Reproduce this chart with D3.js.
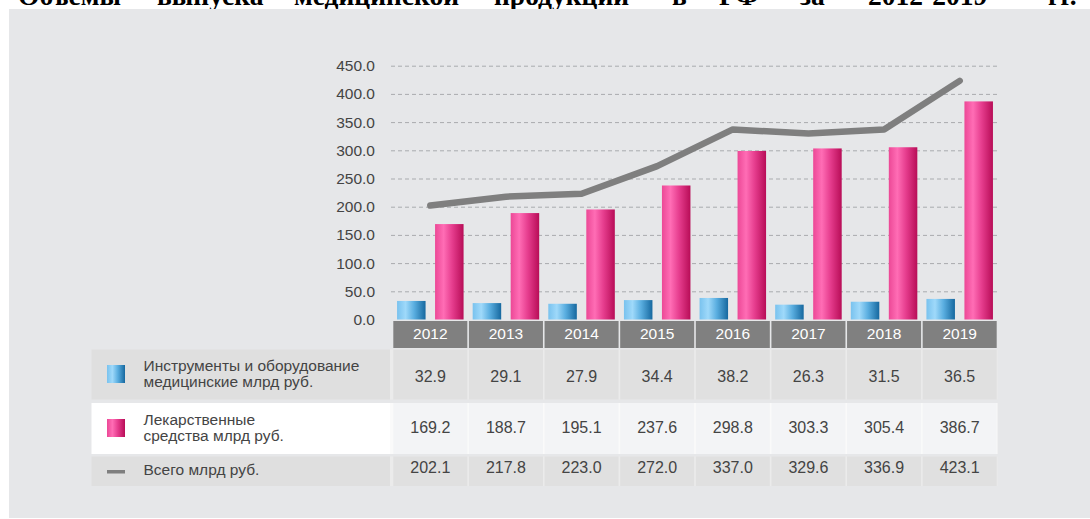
<!DOCTYPE html>
<html><head><meta charset="utf-8">
<script src="https://cdn.jsdelivr.net/npm/d3@7/dist/d3.min.js"></script>
<style>
html,body{margin:0;padding:0;background:#fff;}
svg{display:block;}
</style></head>
<body>
<svg id="c" width="1090" height="519"></svg>
<script>
const years = [2012, 2013, 2014, 2015, 2016, 2017, 2018, 2019];
const instruments = [32.9, 29.1, 27.9, 34.4, 38.2, 26.3, 31.5, 36.5];
const drugs = [169.2, 188.7, 195.1, 237.6, 298.8, 303.3, 305.4, 386.7];
const totals = [202.1, 217.8, 223.0, 272.0, 337.0, 329.6, 336.9, 423.1];
const yTicks = [0, 50, 100, 150, 200, 250, 300, 350, 400, 450];
const seriesKeys = ["inst", "drug"];
const rowLabels = [
  ["Инструменты и оборудование", "медицинские млрд руб."],
  ["Лекарственные", "средства млрд руб."],
  ["Всего млрд руб."]
];
const titleWords = ["Объемы", "выпуска", "медицинской", "продукции", "в", "РФ", "за", "2012-2019", "гг."];

const svg = d3.select("#c");
const font = "'Liberation Sans', Arial, sans-serif";

// defs: gradients
const defs = svg.append("defs");
const gBlue = defs.append("linearGradient").attr("id", "gBlue").attr("x1", "0").attr("x2", "1").attr("y1", "0").attr("y2", "0");
[[0, "#79c2ee"], [0.3, "#9fd9fa"], [0.6, "#5aaee0"], [1, "#16689f"]].forEach(s => gBlue.append("stop").attr("offset", s[0]).attr("stop-color", s[1]));
const gPink = defs.append("linearGradient").attr("id", "gPink").attr("x1", "0").attr("x2", "1").attr("y1", "0").attr("y2", "0");
[[0, "#ec4896"], [0.3, "#ff6db5"], [0.6, "#e63d8e"], [1, "#b80d57"]].forEach(s => gPink.append("stop").attr("offset", s[0]).attr("stop-color", s[1]));

// title (clipped at top, justified across the width as in the reference)
const titleX = [18, 157, 294, 494, 672, 719, 800, 868, 1048];
svg.append("g").selectAll("text").data(titleWords).join("text")
  .attr("x", (d, i) => titleX[i]).attr("y", 5)
  .attr("font-family", "'Liberation Serif', 'Times New Roman', serif")
  .attr("font-weight", "bold").attr("font-size", 27.5).attr("fill", "#000")
  .text(d => d);

// panel
svg.append("rect").attr("x", 9).attr("y", 9).attr("width", 1081).attr("height", 509).attr("fill", "#e6e7e9");

// scales
const x = d3.scaleBand().domain(years).range([392.5, 997.5]).padding(0);
const xs = d3.scaleBand().domain(seriesKeys).range([0, x.bandwidth()]).paddingInner(0.25).paddingOuter(0.12);
const y = d3.scaleLinear().domain([0, 450]).range([319.5, 65.7]);

// grid
const grid = svg.append("g").attr("transform", "translate(391,0)")
  .call(d3.axisLeft(y).tickValues(yTicks).tickSize(-606).tickFormat(""));
grid.select(".domain").remove();
grid.selectAll("line").attr("stroke", "#a9abae").attr("stroke-dasharray", "4,3").attr("stroke-width", 1);
grid.selectAll("g.tick").filter(d => d === 0).remove();

// y axis labels
const ya = svg.append("g").attr("transform", "translate(378,0)")
  .call(d3.axisLeft(y).tickValues(yTicks).tickSize(0).tickPadding(3).tickFormat(d3.format(".1f")));
ya.select(".domain").remove();
ya.selectAll("text").attr("font-family", font).attr("font-size", 15.5).attr("fill", "#444");

// bars
const groups = svg.append("g").selectAll("g").data(years).join("g")
  .attr("transform", d => `translate(${x(d)},0)`);
groups.append("rect")
  .attr("x", xs("inst")).attr("width", xs.bandwidth())
  .attr("y", (d, i) => y(instruments[i])).attr("height", (d, i) => y(0) - y(instruments[i]))
  .attr("fill", "url(#gBlue)");
groups.append("rect")
  .attr("x", xs("drug")).attr("width", xs.bandwidth())
  .attr("y", (d, i) => y(drugs[i])).attr("height", (d, i) => y(0) - y(drugs[i]))
  .attr("fill", "url(#gPink)");

// total line
const line = d3.line().x((d, i) => x(years[i]) + x.bandwidth() / 2).y(d => y(d));
svg.append("path").datum(totals).attr("d", line)
  .attr("fill", "none").attr("stroke", "#7f7f7f").attr("stroke-width", 6.5)
  .attr("stroke-linejoin", "round").attr("stroke-linecap", "round");

// header row (years)
const hdr = svg.append("g").selectAll("g").data(years).join("g");
hdr.append("rect").attr("x", d => x(d) + 0.8).attr("width", x.bandwidth() - 1.6)
  .attr("y", 321).attr("height", 27).attr("fill", "#808080");
hdr.append("text").attr("x", d => x(d) + x.bandwidth() / 2).attr("y", 333.5)
  .attr("dy", "0.35em").attr("text-anchor", "middle")
  .attr("font-family", font).attr("font-size", 15.5).attr("fill", "#fff").text(d => d);

// table rows
const rows = [
  { y0: 349.5, y1: 399.5, labelBg: "#dfdfdf", dataBg: "#e0e0e0", sep: "#ebebeb", vals: instruments, icon: "blue", ty: 376.7 },
  { y0: 403, y1: 454, labelBg: "#ffffff", dataBg: "#f3f4f6", sep: "#fafafa", vals: drugs, icon: "pink", ty: 427.5 },
  { y0: 456.5, y1: 486, labelBg: "#dfdfdf", dataBg: "#e0e0e0", sep: "#ebebeb", vals: totals, icon: "line", ty: 467.5 }
];
const fmt = d3.format(".1f");
rows.forEach((r, ri) => {
  const g = svg.append("g");
  g.append("rect").attr("x", 91.5).attr("y", r.y0).attr("width", 298.5).attr("height", r.y1 - r.y0).attr("fill", r.labelBg);
  g.append("rect").attr("x", 390).attr("y", r.y0).attr("width", 607.5).attr("height", r.y1 - r.y0).attr("fill", r.sep);
  g.selectAll("rect.cell").data(years).join("rect").attr("class", "cell")
    .attr("x", d => x(d) + 0.8).attr("width", x.bandwidth() - 1.6)
    .attr("y", r.y0).attr("height", r.y1 - r.y0).attr("fill", r.dataBg);
  g.selectAll("text.val").data(r.vals).join("text").attr("class", "val")
    .attr("x", (d, i) => x(years[i]) + x.bandwidth() / 2).attr("y", r.ty).attr("dy", "0.35em")
    .attr("text-anchor", "middle").attr("font-family", font).attr("font-size", 16).attr("fill", "#444")
    .text(d => fmt(d));
  // icon
  const cy = (r.y0 + r.y1) / 2;
  if (r.icon === "blue") g.append("rect").attr("x", 107).attr("y", cy - 9.5).attr("width", 18).attr("height", 18).attr("fill", "url(#gBlue)");
  if (r.icon === "pink") g.append("rect").attr("x", 107).attr("y", cy - 9.5).attr("width", 18).attr("height", 18).attr("fill", "url(#gPink)");
  if (r.icon === "line") g.append("rect").attr("x", 107).attr("y", 470).attr("width", 18).attr("height", 3.5).attr("fill", "#7f7f7f");
  // label
  const lines = rowLabels[ri];
  const lh = 16.5;
  const startY = (ri === 2 ? 469.5 : cy - (lines.length - 1) * lh / 2 - 1);
  lines.forEach((t, li) => {
    g.append("text").attr("x", 143.5).attr("y", startY + li * lh).attr("dy", "0.35em")
      .attr("font-family", font).attr("font-size", 15.5).attr("fill", "#444").text(t);
  });
});
</script>
</body></html>
